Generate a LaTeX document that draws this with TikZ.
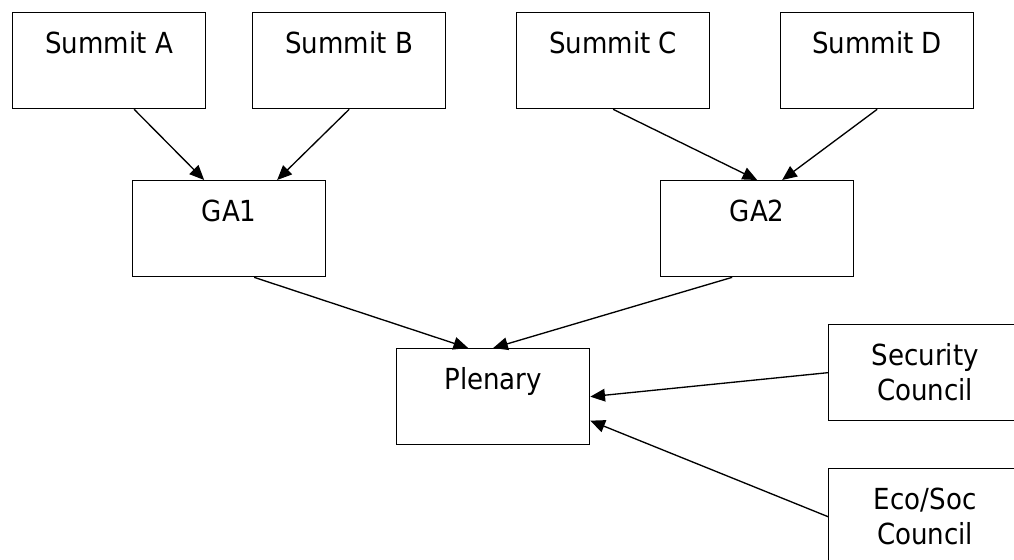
\documentclass[tikz,border=0pt]{standalone}
\usepackage{fontspec}
\usepackage{tikz}
\usetikzlibrary{arrows.meta, calc, positioning}
\newfontfamily\boxfont{DejaVu Sans Condensed}

\tikzset{
    body/.style={draw, line width=1pt, anchor=north west, inner sep=0pt,
        minimum width=144.75pt, minimum height=72pt,
        text height=30.75pt, text depth=41.25pt, align=center,
        font=\boxfont\fontsize{21.75}{26}\selectfont},
    twoline/.style={body, text height=56.75pt, text depth=15.25pt},
    feed/.style={-{Triangle[length=11pt, width=9.5pt]}, line width=1pt}
}

\begin{document}
\begin{tikzpicture}[x=0.75pt, y=-0.75pt]
    \useasboundingbox (0,0) rectangle (1014,560);

    % summits
    \node[body] (sa) at (12,12) {Summit A};
    \node[body] (sb) at (252,12) {Summit B};
    \node[body] (sc) at (516,12) {Summit C};
    \node[body] (sd) at (780,12) {Summit D};

    % general assemblies
    \node[body] (gaone) at (132,180) {GA1};
    \node[body] (gatwo) at (660,180) {GA2};

    \node[body] (plen) at (396,348) {Plenary};
    \node[twoline] (sec) at (828,324) {Security\\Council};
    \node[twoline] (eco) at (828,468) {Eco/Soc\\Council};

    \draw[feed] ($(sa.south)+(25,0)$) -- ($(gaone.north)+(-25,0)$);
    \draw[feed] (sb.south) -- ($(gaone.north)+(48,0)$);
    \draw[feed] (sc.south) -- (gatwo.north);
    \draw[feed] (sd.south) -- ($(gatwo.north)+(25,0)$);

    \draw[feed] ($(gaone.south)+(25,0)$) -- ($(plen.north)+(-25,0)$);
    \draw[feed] ($(gatwo.south)+(-25,0)$) -- (plen.north);

    \draw[feed] (sec.west) -- (plen.east);
    \draw[feed] (eco.west) -- ($(plen.east)+(0,24)$);
\end{tikzpicture}
\end{document}
